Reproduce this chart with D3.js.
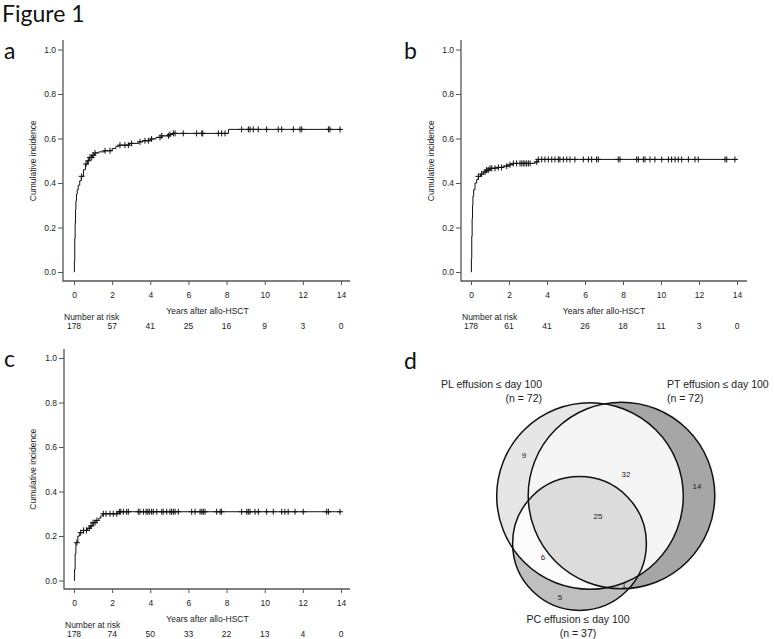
<!DOCTYPE html>
<html><head><meta charset="utf-8">
<script src="https://cdn.jsdelivr.net/npm/d3@7"></script>
<style>body{margin:0;background:#fff}svg{display:block}</style>
</head><body><svg id="fig" width="774" height="639"></svg>
<script>
// ---------- data ----------
const xTicks = [0, 2, 4, 6, 8, 10, 12, 14];
const yTicks = [0, 0.2, 0.4, 0.6, 0.8, 1.0];
const yTickLabels = ["0.0", "0.2", "0.4", "0.6", "0.8", "1.0"];

const aTimes  = [0, 0.02, 0.04, 0.06, 0.08, 0.10, 0.13, 0.17, 0.22, 0.30, 0.38, 0.50, 0.60, 0.70, 0.80, 0.95, 1.10, 1.30, 1.60, 2.00, 2.20, 2.35, 2.90, 3.40, 3.60, 4.00, 4.30, 4.60, 5.00, 5.20, 8.10, 14];
const aValues = [0, 0.05, 0.15, 0.22, 0.28, 0.32, 0.35, 0.37, 0.39, 0.41, 0.43, 0.46, 0.485, 0.50, 0.515, 0.525, 0.535, 0.54, 0.545, 0.555, 0.565, 0.57, 0.578, 0.585, 0.59, 0.598, 0.605, 0.612, 0.618, 0.623, 0.641, 0.641];
const aCensor = [0.40, 0.63, 0.75, 0.84, 0.93, 1.01, 1.10, 1.63, 1.89, 2.41, 2.67, 2.85, 3.02, 3.46, 3.72, 3.90, 4.07, 4.51, 4.60, 4.95, 5.03, 5.21, 5.30, 5.73, 6.43, 6.70, 6.75, 7.57, 7.74, 7.92, 8.79, 9.14, 9.23, 9.40, 9.66, 10.10, 10.71, 10.89, 11.50, 11.85, 11.94, 13.34, 13.42, 13.95];
const aRisk = [178, 57, 41, 25, 16, 9, 3, 0];

const bTimes  = [0, 0.02, 0.04, 0.06, 0.08, 0.10, 0.14, 0.21, 0.30, 0.38, 0.50, 0.65, 0.80, 1.00, 1.30, 1.70, 2.00, 2.23, 3.37, 3.54, 14];
const bValues = [0, 0.06, 0.16, 0.24, 0.30, 0.34, 0.37, 0.40, 0.415, 0.43, 0.44, 0.45, 0.458, 0.466, 0.47, 0.476, 0.482, 0.488, 0.495, 0.506, 0.506];
const bCensor = [0.39, 0.56, 0.74, 0.82, 0.91, 1.00, 1.09, 1.26, 1.44, 1.61, 1.88, 2.05, 2.23, 2.40, 2.58, 2.67, 2.75, 2.84, 2.93, 3.02, 3.11, 3.46, 3.54, 3.72, 3.89, 4.07, 4.25, 4.42, 4.60, 4.68, 4.86, 5.04, 5.21, 5.47, 5.91, 6.18, 6.35, 6.61, 6.70, 7.75, 7.84, 8.72, 8.81, 9.07, 9.16, 9.42, 9.68, 10.04, 10.39, 10.56, 10.74, 10.91, 11.09, 11.44, 11.79, 11.96, 13.37, 13.46, 13.89];
const bRisk = [178, 61, 41, 26, 18, 11, 3, 0];

const cTimes  = [0, 0.03, 0.06, 0.10, 0.20, 0.30, 0.50, 0.70, 0.85, 1.00, 1.15, 1.30, 1.40, 1.50, 2.30, 14];
const cValues = [0, 0.05, 0.12, 0.17, 0.20, 0.215, 0.225, 0.235, 0.245, 0.26, 0.27, 0.28, 0.29, 0.30, 0.309, 0.309];
const cCensor = [0.15, 0.35, 0.50, 0.65, 0.80, 0.90, 1.00, 1.10, 1.20, 1.54, 1.68, 1.89, 2.06, 2.24, 2.38, 2.45, 2.59, 2.76, 2.85, 3.37, 3.46, 3.64, 3.78, 3.87, 3.95, 4.07, 4.16, 4.34, 4.60, 4.68, 4.86, 5.03, 5.12, 5.21, 5.30, 5.47, 6.17, 6.35, 6.61, 6.70, 6.78, 6.87, 7.48, 7.66, 7.74, 8.79, 9.06, 9.14, 9.23, 9.49, 9.67, 10.10, 10.45, 10.89, 11.06, 11.23, 11.59, 12.02, 13.25, 13.34, 13.95];
const cRisk = [178, 74, 50, 33, 22, 13, 4, 0];

const vennSets = ["PL effusion \u2264 day 100", "PT effusion \u2264 day 100", "PC effusion \u2264 day 100"];
const vennSizes = [72, 72, 37];
const vennRegionLabels = ["9", "32", "14", "25", "6", "5", "1"];

// ---------- drawing ----------
const svg = d3.select("#fig");
const FONT = "'Liberation Sans', Arial, sans-serif";
const TITLEFONT = "Lato, 'Open Sans', sans-serif";

svg.append("text").attr("x", 2).attr("y", 22).attr("font-family", TITLEFONT)
  .attr("font-size", 23).attr("fill", "#111").text("Figure 1");

function stepValue(times, values, t) {
  let v = values[0];
  for (let i = 0; i < times.length; i++) { if (times[i] <= t) v = values[i]; }
  return v;
}

function drawPanel(o) {
  const g = svg.append("g");
  const x = d3.scaleLinear().domain([0, 14]).range([o.x0, o.x14]);
  const y = d3.scaleLinear().domain([0, 1]).range([o.y0, o.y1]);
  const axisCol = "#555";
  g.append("text").attr("x", o.lx).attr("y", o.ly).attr("font-family", TITLEFONT)
    .attr("font-size", 23).attr("fill", "#111").text(o.letter);
  g.append("path").attr("d", `M${o.ax},${o.ytop}V${o.axisY}H${o.axRight}`)
    .attr("fill", "none").attr("stroke", axisCol).attr("stroke-width", 1.3);
  const yAx = d3.axisLeft(y).tickValues(yTicks).tickSize(5).tickPadding(2)
    .tickFormat((d, i) => yTickLabels[i]);
  const ya = g.append("g").attr("transform", `translate(${o.ax},0)`).call(yAx);
  ya.select(".domain").remove();
  ya.selectAll("line").attr("stroke", axisCol).attr("stroke-width", 1);
  ya.selectAll("text").attr("font-family", FONT).attr("font-size", 8.5).attr("fill", "#222");
  const xAx = d3.axisBottom(x).tickValues(xTicks).tickSize(4).tickPadding(7).tickFormat(d3.format("d"));
  const xa = g.append("g").attr("transform", `translate(0,${o.axisY})`).call(xAx);
  xa.select(".domain").remove();
  xa.selectAll("line").attr("stroke", axisCol).attr("stroke-width", 1);
  xa.selectAll("text").attr("font-family", FONT).attr("font-size", 8.5).attr("fill", "#222");
  g.append("text").attr("transform", `translate(${o.ylabX},${(o.y0 + o.y1) / 2}) rotate(-90)`)
    .attr("text-anchor", "middle").attr("font-family", FONT).attr("font-size", 8.5)
    .attr("fill", "#222").text("Cumulative incidence");
  g.append("text").attr("x", (o.x0 + o.x14) / 2).attr("y", o.axisY + 33)
    .attr("text-anchor", "middle").attr("font-family", FONT).attr("font-size", 8.5)
    .attr("fill", "#222").text("Years after allo-HSCT");
  g.append("text").attr("x", o.ax + 1).attr("y", o.axisY + 39)
    .attr("font-family", FONT).attr("font-size", 8.5).attr("fill", "#222").text("Number at risk");
  g.selectAll(".risk").data(o.risk).enter().append("text")
    .attr("x", (d, i) => x(xTicks[i])).attr("y", o.axisY + 48)
    .attr("text-anchor", "middle").attr("font-family", FONT).attr("font-size", 8.5)
    .attr("fill", "#222").text(d => d);
  const pts = o.times.map((t, i) => [t, o.values[i]]);
  const line = d3.line().x(d => x(d[0])).y(d => y(d[1])).curve(d3.curveStepAfter);
  g.append("path").attr("d", line(pts)).attr("fill", "none").attr("stroke", "#111").attr("stroke-width", 1);
  g.selectAll(".cens").data(o.censor).enter().append("path")
    .attr("d", d => {
      const cx = x(d), cy = y(stepValue(o.times, o.values, d));
      return `M${cx - 3},${cy}H${cx + 3}M${cx},${cy - 3}V${cy + 3}`;
    })
    .attr("stroke", "#111").attr("stroke-width", 1).attr("fill", "none");
}

drawPanel({letter: "a", lx: 4, ly: 59, ax: 63, axRight: 350, ytop: 40, x0: 74, x14: 341, y0: 272, y1: 49.5,
  axisY: 281, ylabX: 36, times: aTimes, values: aValues, censor: aCensor, risk: aRisk});
drawPanel({letter: "b", lx: 404, ly: 59, ax: 461, axRight: 747, ytop: 40, x0: 471, x14: 737, y0: 272, y1: 49.5,
  axisY: 281, ylabX: 434, times: bTimes, values: bValues, censor: bCensor, risk: bRisk});
drawPanel({letter: "c", lx: 4, ly: 367, ax: 64, axRight: 350, ytop: 349, x0: 74, x14: 341, y0: 580.5, y1: 358,
  axisY: 589, ylabX: 36, times: cTimes, values: cValues, censor: cCensor, risk: cRisk});

// ---------- Venn (panel d) ----------
svg.append("text").attr("x", 404).attr("y", 369).attr("font-family", TITLEFONT)
  .attr("font-size", 23).attr("fill", "#111").text("d");

const rScale = d3.scaleSqrt().domain([0, 72]).range([0, 93.3]);
const centers = [[590, 496], [621.5, 495.5], [579.5, 543.5]];
const circ = vennSizes.map((n, i) => ({cx: centers[i][0], cy: centers[i][1], r: rScale(n)}));
const defs = svg.append("defs");
circ.forEach((c, i) => {
  defs.append("clipPath").attr("id", "clip" + i).append("circle")
    .attr("cx", c.cx).attr("cy", c.cy).attr("r", c.r);
});
const vg = svg.append("g");
function disc(parent, i, fill) {
  parent.append("circle").attr("cx", circ[i].cx).attr("cy", circ[i].cy).attr("r", circ[i].r).attr("fill", fill);
}
disc(vg, 0, "#e6e6e6");
disc(vg, 1, "#a6a6a6");
disc(vg, 2, "#bfbfbf");
const g01 = vg.append("g").attr("clip-path", "url(#clip0)");
disc(g01, 1, "#f5f5f5");
disc(g01, 2, "#fbfbfb");
const g12 = vg.append("g").attr("clip-path", "url(#clip1)");
disc(g12, 2, "#c9c9c9");
const g012 = vg.append("g").attr("clip-path", "url(#clip0)").append("g").attr("clip-path", "url(#clip1)");
disc(g012, 2, "#dcdcdc");
circ.forEach(c => {
  vg.append("circle").attr("cx", c.cx).attr("cy", c.cy).attr("r", c.r)
    .attr("fill", "none").attr("stroke", "#111").attr("stroke-width", 1.5);
});
const regionPos = [[524, 458], [626, 477], [697, 489], [598, 519], [543, 560], [560, 600], [624, 588]];
vg.selectAll(".rl").data(vennRegionLabels).enter().append("text")
  .attr("x", (d, i) => regionPos[i][0]).attr("y", (d, i) => regionPos[i][1])
  .attr("text-anchor", "middle").attr("font-family", FONT).attr("font-size", 8)
  .attr("fill", "#222").text(d => d);

const lab = (x, y, anchor, t) => svg.append("text").attr("x", x).attr("y", y).attr("text-anchor", anchor)
  .attr("font-family", FONT).attr("font-size", 10.5).attr("fill", "#222").text(t);
lab(542, 388, "end", vennSets[0]);
lab(542, 402, "end", `(n = ${vennSizes[0]})`);
lab(667, 388, "start", vennSets[1]);
lab(667, 402, "start", `(n = ${vennSizes[1]})`);
lab(578, 623, "middle", vennSets[2]);
lab(578, 637, "middle", `(n = ${vennSizes[2]})`);
</script>
</body></html>
